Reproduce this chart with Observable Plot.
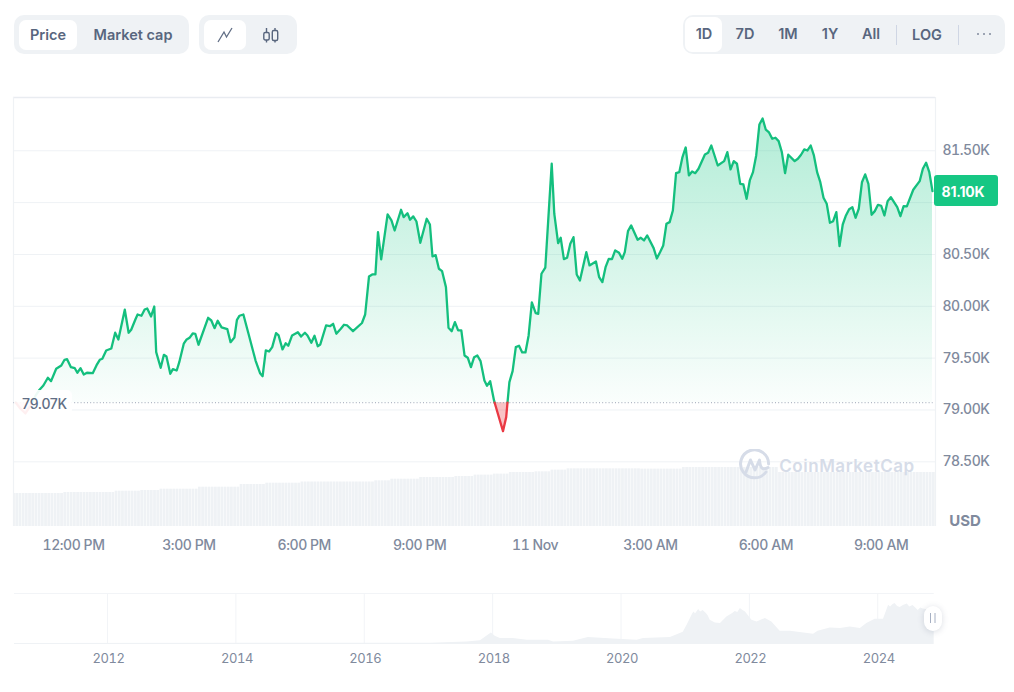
<!DOCTYPE html>
<html><head><meta charset="utf-8">
<script src="https://cdn.jsdelivr.net/npm/d3@7"></script>
<script src="https://cdn.jsdelivr.net/npm/@observablehq/plot@0.6"></script>
<style>
html,body{margin:0;padding:0;background:#fff}
#page{position:relative;width:1014px;height:692px;overflow:hidden;font-family:Inter,sans-serif}
#page svg text{font-family:Inter,sans-serif;letter-spacing:-.45px}
#page svg{display:block}
.abs{position:absolute}
.lbl{position:absolute;transform:translate(-50%,-50%);white-space:nowrap;font-size:14.5px;font-weight:600;color:#58667e;line-height:1}
.grp{position:absolute;background:#eff2f5;border-radius:10px}
.act{position:absolute;background:#fff;border-radius:7px}
.sep{position:absolute;width:1px;background:#cfd6e4}
</style></head>
<body><div id="page"></div>
<script>
// Minutes after 11:00 AM, 10 Nov
const priceMinutes = [-30,-23,-15,-7,-5,1,7,13,20,25,33,41,46,50,56,62,66,71,76,81,90,96,101,105,111,119,125,130,140,146,150,157,160,166,171,175,181,186,189,196,201,205,211,215,221,225,232,236,241,246,250,255,270,275,280,285,291,300,305,311,315,319,325,333,344,351,355,360,365,370,376,380,386,391,395,401,410,415,421,425,431,436,441,445,454,460,465,470,477,482,487,496,510,515,521,526,531,535,540,550,556,561,571,575,581,585,590,595,601,611,616,620,625,630,635,641,645,650,655,660,665,670,675,680,685,690,695,701,705,710,716,717,730,735,737,740,745,750,755,760,765,770,775,781,785,790,796,806,810,816,820,825,830,835,840,845,850,860,865,875,880,885,890,895,900,905,911,916,920,925,930,940,945,950,955,965,970,975,980,985,990,995,1000,1005,1010,1015,1020,1025,1030,1035,1045,1050,1055,1065,1075,1080,1085,1090,1095,1100,1105,1110,1115,1120,1125,1130,1135,1140,1145,1150,1155,1160,1165,1170,1175,1185,1190,1195,1200,1205,1210,1215,1220,1225,1230,1235,1240,1245,1250,1255,1260,1265,1270,1275,1280,1285,1290,1295,1300,1305,1310,1315,1320,1325,1330,1335,1345,1350,1355,1360,1370,1380,1385,1390,1395,1400];
const priceValues = [79070,79014,78966,79043,79070,79140,79195,79236,79311,79278,79397,79429,79484,79490,79413,79403,79359,79403,79342,79359,79355,79432,79484,79494,79574,79593,79745,79680,79967,79745,79774,79880,79921,79909,79969,79979,79902,79998,79558,79407,79532,79516,79349,79394,79381,79461,79639,79677,79696,79738,79735,79629,79889,79863,79789,79860,79796,79779,79654,79699,79870,79909,79921,79735,79477,79355,79326,79574,79564,79606,79741,79719,79584,79644,79619,79719,79750,79709,79745,79719,79648,79716,79615,79632,79815,79808,79831,79735,79783,79822,79815,79760,79839,79921,80288,80307,80307,80715,80452,80886,80828,80731,80931,80860,80898,80835,80867,80818,80613,80844,80789,80481,80493,80362,80339,80185,79793,79760,79847,79767,79767,79526,79504,79413,79509,79526,79471,79285,79233,79278,79092,79070,78796,78931,79070,79268,79374,79606,79619,79555,79555,79719,80037,79934,79928,80314,80372,81375,80893,80609,80661,80455,80468,80603,80667,80307,80249,80522,80394,80432,80281,80233,80377,80458,80455,80539,80516,80458,80522,80725,80780,80642,80661,80635,80683,80561,80461,80522,80587,80796,80812,80924,81284,81294,81439,81532,81262,81301,81284,81327,81465,81481,81551,81358,81400,81487,81320,81400,81375,81182,81175,81037,81214,81294,81455,81754,81812,81703,81677,81616,81626,81593,81487,81284,81462,81400,81423,81462,81513,81503,81551,81455,81294,81197,81047,80989,80806,80821,80908,80580,80789,80876,80937,80956,80854,80941,81197,81272,81182,80883,80918,80979,80970,80876,81014,81053,80956,80869,80966,80963,81124,81207,81327,81385,81294,81111];
const baseline = 79070;
const priceGrid = [78500,79000,79500,80000,80500,81000,81500];
const priceLabelled = [78500,79000,79500,80000,80500,81500];
const timeTicks = [60,240,420,600,780,960,1140,1320];
const timeLabels = ["12:00 PM","3:00 PM","6:00 PM","9:00 PM","11 Nov","3:00 AM","6:00 AM","9:00 AM"];
// Volume bars: level (billions) and how many 5-minute bars sit at that level
const volumeLevels = [33,34,35.3,36,37.3,39.3,42,43.3,44.5,44.5,45.7,47.3,49,50,51.4,52.4,54,54.7,56.4,57.7,57.4,59,54];
const volumeRuns = [16,16,8,6,12,13,8,11,12,11,5,9,11,6,6,5,8,5,5,23,13,30,49];
// Long-range overview
const overviewYears = [2010.55,2017.03,2017.60,2017.81,2017.98,2018.04,2018.12,2018.32,2018.54,2018.87,2018.95,2019.26,2019.49,2019.88,2020.25,2020.35,2020.77,2020.97,2021.03,2021.12,2021.14,2021.16,2021.21,2021.24,2021.28,2021.33,2021.36,2021.39,2021.47,2021.55,2021.65,2021.74,2021.78,2021.82,2021.86,2021.90,2021.94,2022.04,2022.12,2022.25,2022.35,2022.48,2022.64,2022.85,2023.0,2023.07,2023.26,2023.42,2023.57,2023.73,2023.83,2023.96,2024.09,2024.17,2024.20,2024.24,2024.27,2024.31,2024.35,2024.40,2024.46,2024.50,2024.55,2024.60,2024.63,2024.67,2024.71,2024.80,2024.88];
const overviewValues = [0,600,3200,5600,21000,14600,10000,10000,6600,6600,3200,4600,12000,9200,6600,10000,12000,22600,36600,60000,63000,59000,68000,63000,66000,60000,55000,46600,41200,40000,53200,60000,64000,62000,70000,66000,63000,46600,43200,50000,43200,24600,24600,21200,18600,24600,31200,30000,33200,30000,40000,48600,48600,76600,73000,78000,80000,74000,72000,76000,79000,73000,76000,70000,66000,71000,69000,67000,64000];
const overviewTicks = [2012,2014,2016,2018,2020,2022,2024];

const page = document.getElementById("page");
const GREEN = "#16c784", LINE = "#14bf7e", RED = "#ea3943", GRID = "#eff2f5", AXIS = "#808a9d";
const xDomain = [-33.6, 1404.7];
const absStyle = {position:"absolute",left:"0",top:"0",background:"transparent",overflow:"visible",fontFamily:"Inter, sans-serif",fontWeight:500};

const prices = priceMinutes.map((m,i)=>({m,v:priceValues[i]}));
const bars = [];
volumeLevels.forEach((lvl,i)=>{for(let k=0;k<volumeRuns[i];k++) bars.push({m:-35+bars.length*5,v:lvl});});

// Volume underlay
const volPlot = Plot.plot({
  width:1014,height:560,marginLeft:13,marginRight:79,marginTop:97,marginBottom:34,
  style:absStyle,
  x:{domain:xDomain,axis:null},y:{domain:[0,429],axis:null},
  marks:[Plot.rectY(bars,{x1:"m",x2:d=>d.m+5,y:"v",fill:GRID,insetRight:0.45,clip:true})]
});
page.appendChild(volPlot);

// Price chart
const defs = () => {
  const d = d3.create("svg:defs");
  d.html(`<linearGradient id="upFill" x1="0" y1="0" x2="0" y2="1">
    <stop offset="0" stop-color="${GREEN}" stop-opacity="0.33"/>
    <stop offset="1" stop-color="${GREEN}" stop-opacity="0.02"/></linearGradient>`);
  return d.node();
};
const up = d => d.v>=baseline ? d.v : NaN;
const down = d => d.v<=baseline ? d.v : NaN;
const pricePlot = Plot.plot({
  width:1014,height:560,marginLeft:13,marginRight:79,marginTop:97,marginBottom:34,
  style:absStyle,
  x:{domain:xDomain,label:null},y:{domain:[77876,82014],label:null},
  marks:[
    defs,
    Plot.ruleY(priceGrid,{stroke:GRID,strokeWidth:1}),
    Plot.ruleY([82014],{stroke:"#e9ecf1",strokeWidth:1.5}),
    Plot.ruleX(xDomain,{stroke:GRID,strokeWidth:1.2}),
    Plot.areaY(prices,{x:"m",y1:()=>baseline,y2:up,fill:"url(#upFill)"}),
    Plot.areaY(prices,{x:"m",y1:()=>baseline,y2:down,fill:RED,fillOpacity:0.3}),
    Plot.ruleY([baseline],{x1:-33,x2:1401,stroke:"#9aa3b5",strokeWidth:1,strokeDasharray:"1 2.2"}),
    Plot.line(prices,{x:"m",y:up,stroke:LINE,strokeWidth:2.3}),
    Plot.line(prices,{x:"m",y:down,stroke:RED,strokeWidth:2.3}),
    Plot.axisY(priceLabelled,{anchor:"right",tickSize:0,tickPadding:7,fill:AXIS,fontSize:14,label:null,tickFormat:d=>(d/1000).toFixed(2)+"K"}),
    Plot.axisX(timeTicks,{tickSize:0,tickPadding:14,fill:AXIS,fontSize:14,label:null,tickFormat:d=>timeLabels[timeTicks.indexOf(d)]})
  ]
});
page.appendChild(pricePlot);

// Overview
const overview = overviewYears.map((y,i)=>({y,v:overviewValues[i]}));
const ovPlot = Plot.plot({
  width:1014,height:90,marginLeft:14,marginRight:80.3,marginTop:10,marginBottom:30,
  style:{...absStyle,top:"583px",fontWeight:400},
  x:{domain:[2010.55,2024.88],label:null},y:{domain:[0,100000],axis:null},
  marks:[
    Plot.ruleY([100000],{stroke:"#f2f4f7"}),
    Plot.ruleX(overviewTicks,{stroke:"#f2f4f7"}),
    Plot.areaY(overview,{x:"y",y:"v",fill:"#eff2f5"}),
    Plot.ruleY([0],{stroke:"#eff2f5"}),
    Plot.axisX(overviewTicks,{tickSize:0,tickPadding:10,dx:1,fill:AXIS,fontSize:13,label:null,tickFormat:d=>String(d)})
  ]
});
page.appendChild(ovPlot);

// Interface chrome
function box(cls,l,t,w,h,extra){const e=document.createElement("div");e.className=cls;Object.assign(e.style,{left:l+"px",top:t+"px",width:w+"px",height:h+"px"},extra||{});page.appendChild(e);return e;}
function label(txt,x,y,extra){const e=document.createElement("div");e.className="lbl";e.textContent=txt;Object.assign(e.style,{left:x+"px",top:y+"px"},extra||{});page.appendChild(e);return e;}
box("grp",14,15,175,39);box("act",19,20,58,30);
label("Price",48,34.5);label("Market cap",133,34.5);
box("grp",199,15,98,39);box("act",204,20,42,30);
box("grp",683,15,322,39);box("act",685,17,37,35);
[["1D",704],["7D",745],["1M",788],["1Y",830],["All",871]].forEach(([t,x])=>label(t,x,34));
label("LOG",927,34.5);
box("sep",896,25,1,20);box("sep",958,25,1,20);
function svgAt(l,t,w,h,inner){const e=document.createElement("div");e.className="abs";e.style.left=l+"px";e.style.top=t+"px";e.innerHTML=`<svg width="${w}" height="${h}" viewBox="0 0 ${w} ${h}" xmlns="http://www.w3.org/2000/svg">${inner}</svg>`;page.appendChild(e);}
svgAt(215,26,20,18,`<polyline points="3,16 9,6 11.5,11 17,2" fill="none" stroke="#616e85" stroke-width="1.3"/>`);
svgAt(261,26,20,18,`<g fill="none" stroke="#58667e" stroke-width="1.4"><path d="M5.5 2V16.5M14 2V16.5"/><rect x="2.8" y="6.5" width="5.4" height="7.5" rx="1.5" fill="#eff2f5"/><rect x="11.3" y="4.5" width="5.4" height="10" rx="1.5" fill="#eff2f5"/></g>`);
svgAt(976,31,16,6,`<g fill="#808a9d"><circle cx="2" cy="3" r="1"/><circle cx="8" cy="3" r="1"/><circle cx="14" cy="3" r="1"/></g>`);

// Baseline tag over the start of the line
box("abs",14,390,58,25,{background:"rgba(255,255,255,0.92)",borderRadius:"5px"});
label("79.07K",44.5,403.5,{fontWeight:500,color:"#616e85",fontSize:"14px",letterSpacing:"-0.3px"});
// Current price tag
box("abs",934,175,64,31,{background:GREEN,borderRadius:"3px"});
label("81.10K",963,191.5,{color:"#fff",fontWeight:700,fontSize:"14px",letterSpacing:"-0.2px"});
label("USD",965,519.5,{color:AXIS,fontWeight:700,fontSize:"15px"});

// Watermark
svgAt(739,449,32,32,`<g fill="none" stroke="#d6dce8" stroke-width="3" stroke-linecap="round" stroke-linejoin="round"><path d="M27 23A14 14 0 1 1 29.6 15"/><path d="M7 23L11.5 11L16 21L20.5 11C21 18 23 22 29 18.5"/></g>`);
label("CoinMarketCap",847,465.5,{color:"#d6dce8",fontWeight:600,fontSize:"17px",letterSpacing:"0.55px"});

// Range handle
box("abs",924,605.5,17.5,25,{background:"#fff",borderRadius:"9px",boxShadow:"0 1px 6px rgba(88,102,126,.22)"});
svgAt(929,613,8,10,`<path d="M1.5 0V10M6 0V10" stroke="#a6b0c3" stroke-width="1"/>`);
</script></body></html>
